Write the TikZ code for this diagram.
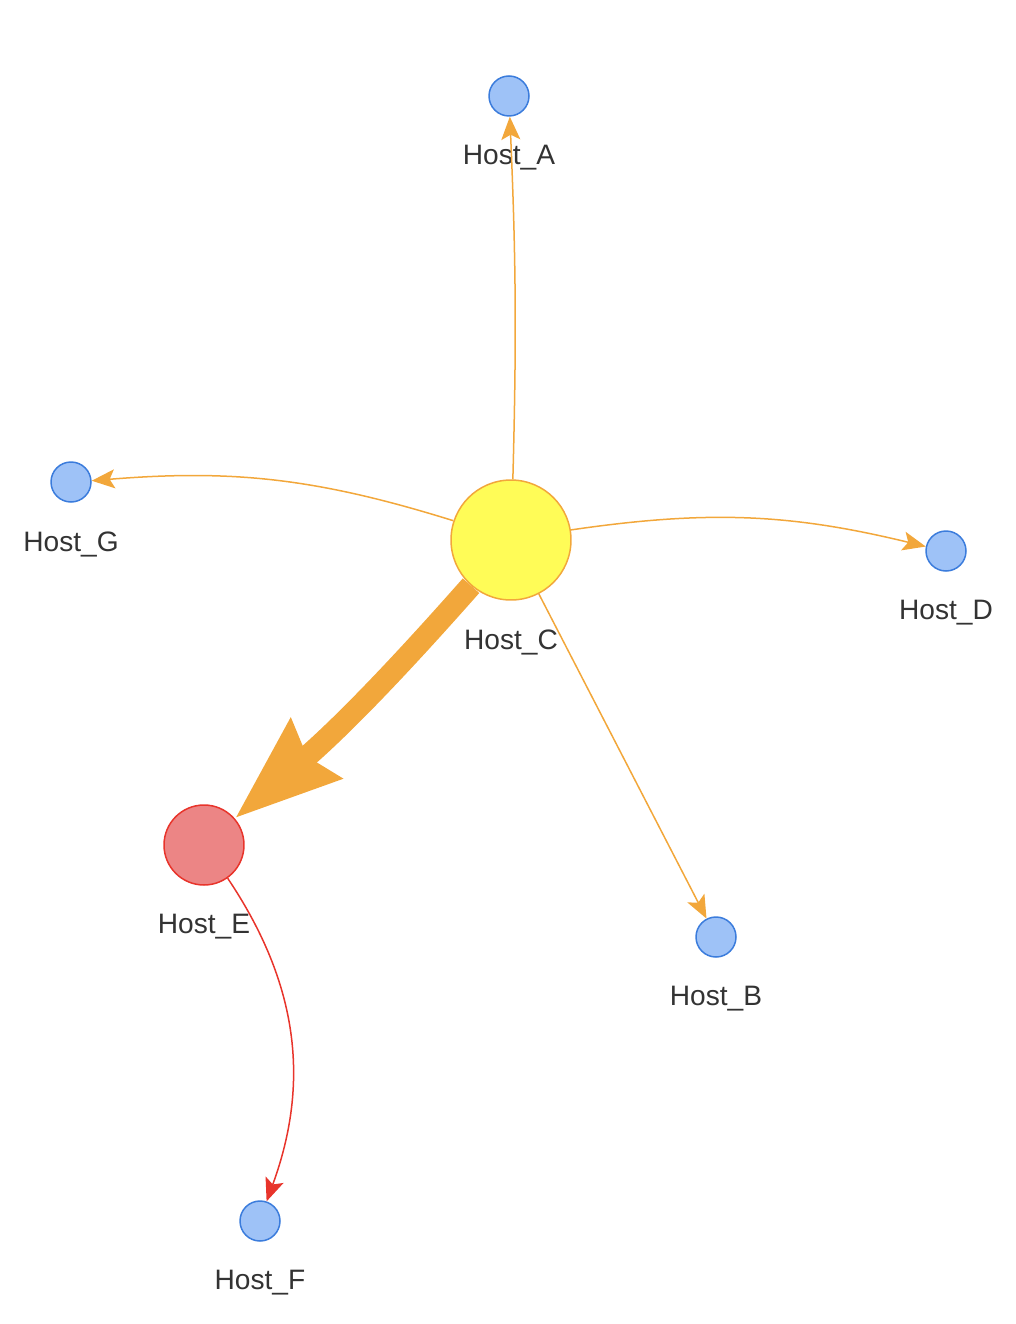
\documentclass[tikz,border=0pt]{standalone}
\usepackage{fontspec}
\setmainfont{Liberation Sans}
\usetikzlibrary{arrows.meta}

\definecolor{edgeorange}{HTML}{F2A73B}
\definecolor{edgered}{HTML}{E8342B}
\definecolor{hostfill}{HTML}{9EC2F7}
\definecolor{hostline}{HTML}{3B7CDC}
\definecolor{hubfill}{HTML}{FFFC57}
\definecolor{hitfill}{HTML}{EC8585}
\definecolor{labelgray}{HTML}{333333}

\begin{document}
\begin{tikzpicture}[
    x=0.02cm, y=-0.02cm,
    every node/.style={font=\fontsize{16}{19}\selectfont},
    every label/.style={text=labelgray, yshift=-0.45cm},
    host/.style={circle, draw=hostline, fill=hostfill, line width=0.03cm, minimum size=0.8cm, inner sep=0pt},
    hub/.style={host, draw=edgeorange, fill=hubfill, minimum size=2.4cm},
    hit/.style={host, draw=edgered, fill=hitfill, minimum size=1.6cm},
    ar/.style={draw=edgeorange, line width=0.03cm, -{Stealth[length=0.46cm, width=0.38cm, inset=0.1cm]}},
    redar/.style={ar, draw=edgered},
    heavy/.style={draw=edgeorange, line width=0.44cm, -{Stealth[length=2.1cm, width=1.5cm, inset=0.2cm]}}
]
\useasboundingbox (0,0) rectangle (1016,1324);
\node[hub, label=below:Host\_C] (hostc) at (511,540) {};
\node[host, label=below:Host\_A] (hosta) at (509,96) {};
\node[host, label=below:Host\_G] (hostg) at (71,482) {};
\node[host, label=below:Host\_D] (hostd) at (946,551) {};
\node[host, label=below:Host\_B] (hostb) at (716,937) {};
\node[hit, label=below:Host\_E] (hoste) at (204,845) {};
\node[host, label=below:Host\_F] (hostf) at (260,1221) {};
\draw[ar] (hostc) to[bend right=2] (hosta);
\draw[ar] (hostc) to[bend right=11] (hostg);
\draw[ar] (hostc) to[bend left=11] (hostd);
\draw[ar] (hostc) -- (hostb);
\draw[heavy] (hostc) to[bend left=4] (hoste);
\draw[redar] (hoste) to[bend left=27] (hostf);
\end{tikzpicture}
\end{document}
